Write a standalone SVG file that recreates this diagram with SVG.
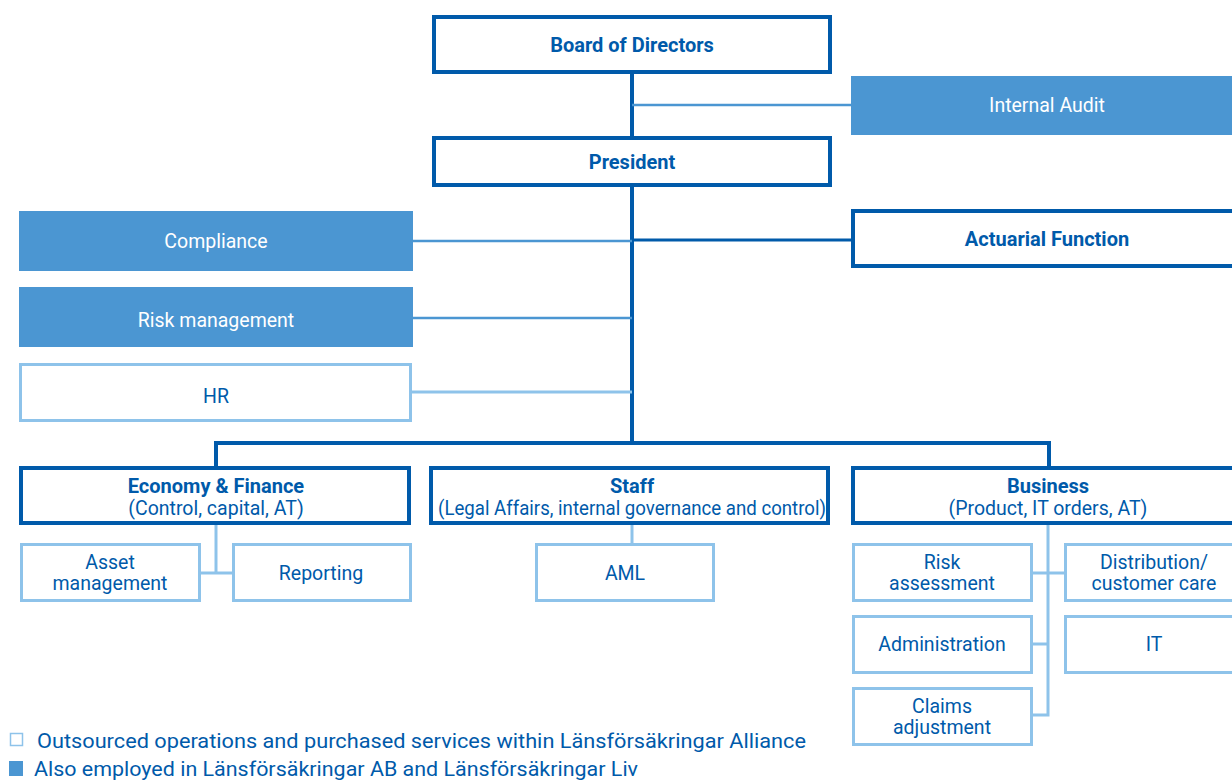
<svg xmlns="http://www.w3.org/2000/svg" width="1232" height="780" viewBox="0 0 1232 780">
  <style>
    text { font-family: Roboto, "Liberation Sans", sans-serif; font-size: 19.5px; text-anchor: middle; dominant-baseline: central; }
    .dark { fill: #fff; stroke: #005aaa; stroke-width: 4; }
    .filled { fill: #4b96d2; }
    .light { fill: #fff; stroke: #8ec3ea; stroke-width: 3; }
    .t-dark { fill: #005aaa; }
    .t-bold { fill: #005aaa; font-weight: 700; font-size: 20px; }
    .t-white { fill: #fff; }
    .c-main { stroke: #005aaa; stroke-width: 4; fill: none; }
    .c-mid { stroke: #4b96d2; stroke-width: 2.5; fill: none; }
    .c-light { stroke: #8ec3ea; stroke-width: 3; fill: none; }
    .legend { font-size: 21px; text-anchor: start; fill: #005aaa; }
  </style>

  <!-- connectors -->
  <g id="connectors">
    <line class="c-main" x1="632" y1="74" x2="632" y2="445"/>
    <line class="c-mid" x1="632" y1="105" x2="851" y2="105"/>
    <line class="c-mid" x1="413" y1="241" x2="632" y2="241"/>
    <line class="c-main" x1="632" y1="240" x2="851" y2="240" style="stroke-width:3"/>
    <line class="c-mid" x1="413" y1="318" x2="632" y2="318"/>
    <line class="c-light" x1="412" y1="392" x2="632" y2="392"/>
    <polyline class="c-main" points="216,467 216,443 1049,443 1049,467"/>
    <polyline class="c-light" points="216,525 216,573"/>
    <line class="c-light" x1="200" y1="573" x2="232" y2="573"/>
    <line class="c-light" x1="632" y1="525" x2="632" y2="543"/>
    <polyline class="c-light" points="1048,525 1048,715 1032,715"/>
    <line class="c-light" x1="1032" y1="573" x2="1064" y2="573"/>
    <line class="c-light" x1="1032" y1="644" x2="1048" y2="644"/>
  </g>

  <g id="board">
    <rect class="dark" x="434" y="17" width="396" height="55"/>
    <text class="t-bold" x="632" y="45">Board of Directors</text>
  </g>
  <g id="internal-audit">
    <rect class="filled" x="851" y="76" width="381" height="59"/>
    <text class="t-white" x="1047" y="105">Internal Audit</text>
  </g>
  <g id="president">
    <rect class="dark" x="434" y="138" width="396" height="47"/>
    <text class="t-bold" x="632" y="162">President</text>
  </g>
  <g id="compliance">
    <rect class="filled" x="19" y="211" width="394" height="60"/>
    <text class="t-white" x="216" y="241">Compliance</text>
  </g>
  <g id="actuarial">
    <rect class="dark" x="853" y="211" width="385" height="55"/>
    <text class="t-bold" x="1047" y="239">Actuarial Function</text>
  </g>
  <g id="risk-management">
    <rect class="filled" x="19" y="287" width="394" height="60"/>
    <text class="t-white" x="216" y="320">Risk management</text>
  </g>
  <g id="hr">
    <rect class="light" x="20.5" y="364.5" width="390" height="56"/>
    <text class="t-dark" x="216" y="396">HR</text>
  </g>

  <g id="economy-finance">
    <rect class="dark" x="21" y="468" width="388" height="55"/>
    <text class="t-bold" x="216" y="486">Economy &amp; Finance</text>
    <text class="t-dark" x="216" y="508">(Control, capital, AT)</text>
  </g>
  <g id="staff">
    <rect class="dark" x="431" y="468" width="397" height="55"/>
    <text class="t-bold" x="632" y="486">Staff</text>
    <text class="t-dark" x="632" y="508" textLength="388" lengthAdjust="spacingAndGlyphs">(Legal Affairs, internal governance and control)</text>
  </g>
  <g id="business">
    <rect class="dark" x="853" y="468" width="385" height="55"/>
    <text class="t-bold" x="1048" y="486">Business</text>
    <text class="t-dark" x="1048" y="508">(Product, IT orders, AT)</text>
  </g>

  <g id="asset-management">
    <rect class="light" x="21.5" y="544.5" width="178" height="56"/>
    <text class="t-dark" x="110" y="562">Asset</text>
    <text class="t-dark" x="110" y="583">management</text>
  </g>
  <g id="reporting">
    <rect class="light" x="233.5" y="544.5" width="177" height="56"/>
    <text class="t-dark" x="321" y="573">Reporting</text>
  </g>
  <g id="aml">
    <rect class="light" x="536.5" y="544.5" width="177" height="56"/>
    <text class="t-dark" x="625" y="573">AML</text>
  </g>
  <g id="risk-assessment">
    <rect class="light" x="853.5" y="544.5" width="178" height="56"/>
    <text class="t-dark" x="942" y="562">Risk</text>
    <text class="t-dark" x="942" y="583">assessment</text>
  </g>
  <g id="distribution">
    <rect class="light" x="1065.5" y="544.5" width="175" height="56"/>
    <text class="t-dark" x="1154" y="562">Distribution/</text>
    <text class="t-dark" x="1154" y="583">customer care</text>
  </g>
  <g id="administration">
    <rect class="light" x="853.5" y="616.5" width="178" height="56"/>
    <text class="t-dark" x="942" y="644">Administration</text>
  </g>
  <g id="it">
    <rect class="light" x="1065.5" y="616.5" width="175" height="56"/>
    <text class="t-dark" x="1154" y="644">IT</text>
  </g>
  <g id="claims">
    <rect class="light" x="853.5" y="688.5" width="178" height="56"/>
    <text class="t-dark" x="942" y="706">Claims</text>
    <text class="t-dark" x="942" y="727">adjustment</text>
  </g>

  <g id="legend">
    <rect x="10.5" y="733.5" width="12" height="12" fill="#fff" stroke="#8ec3ea" stroke-width="1.5"/>
    <text class="legend" x="37" y="741" textLength="769" lengthAdjust="spacingAndGlyphs">Outsourced operations and purchased services within Länsförsäkringar Alliance</text>
    <rect x="9" y="761" width="14" height="15" fill="#4b96d2"/>
    <text class="legend" x="34" y="769" textLength="604" lengthAdjust="spacingAndGlyphs">Also employed in Länsförsäkringar AB and Länsförsäkringar Liv</text>
  </g>
</svg>
